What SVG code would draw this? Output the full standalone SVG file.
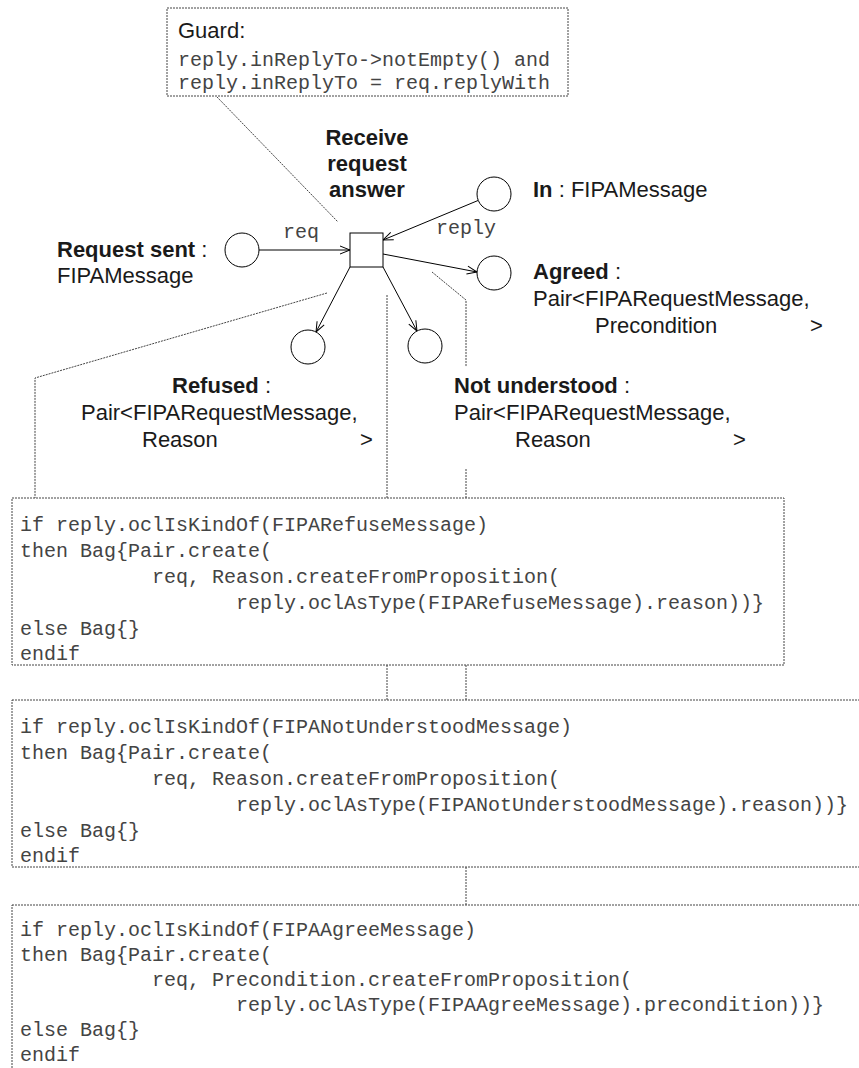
<svg xmlns="http://www.w3.org/2000/svg" width="859" height="1068" viewBox="0 0 859 1068">
<defs>
<style>
.dot{fill:none;stroke:#444;stroke-width:1;stroke-dasharray:2 1}
.ln{fill:none;stroke:#000;stroke-width:1}
.pl{fill:#fff;stroke:#000;stroke-width:1}
.sans{font-family:"Liberation Sans",Arial,sans-serif;font-size:22px;fill:#1a1a1a}
.b{font-weight:bold}
.mono{font-family:"Liberation Mono","Courier New",monospace;font-size:20px;fill:#444}
</style>
<marker id="arr" markerUnits="userSpaceOnUse" markerWidth="12" markerHeight="10" refX="11" refY="5" orient="auto" viewBox="0 0 12 10">
<path d="M1,1 L11,5 L1,9" fill="none" stroke="#000" stroke-width="1"/>
</marker>
</defs>
<rect width="859" height="1068" fill="#fff"/>

<g id="connectors">
<line class="ln" x1="259" y1="250" x2="350" y2="250" marker-end="url(#arr)"/>
<line class="ln" x1="478" y1="200.5" x2="383" y2="240" marker-end="url(#arr)"/>
<line class="ln" x1="383" y1="254" x2="477" y2="272" marker-end="url(#arr)"/>
<line class="ln" x1="350" y1="267" x2="316" y2="332" marker-end="url(#arr)"/>
<line class="ln" x1="383" y1="267" x2="417" y2="331" marker-end="url(#arr)"/>
<text class="mono" x="283" y="238">req</text>
<text class="mono" x="436" y="234">reply</text>
<path class="dot" d="M217,97 L338,222"/>
<path class="dot" d="M327,293 L35,378 L35,498"/>
<path class="dot" d="M387,295 L387,498"/>
<path class="dot" d="M432,272 L466,300 L466,367"/>
<path class="dot" d="M466,469 L466,498"/>
<path class="dot" d="M387,665 L387,700"/>
<path class="dot" d="M466,665 L466,700"/>
<path class="dot" d="M466,867 L466,905"/>
</g>

<g id="guard">
<rect class="dot" x="167" y="8" width="401" height="88"/>
<text class="sans" x="178" y="38">Guard:</text>
<text class="mono" x="178" y="66">reply.inReplyTo-&gt;notEmpty() and</text>
<text class="mono" x="178" y="89">reply.inReplyTo = req.replyWith</text>
</g>

<g id="transition">
<rect class="pl" x="350" y="233" width="33" height="34"/>
<text class="sans b" text-anchor="middle" x="367" y="145">Receive</text>
<text class="sans b" text-anchor="middle" x="367" y="171">request</text>
<text class="sans b" text-anchor="middle" x="367" y="197">answer</text>
</g>

<g id="request-sent">
<circle class="pl" cx="242" cy="250" r="17"/>
<text class="sans" x="57" y="257"><tspan class="b">Request sent</tspan> :</text>
<text class="sans" x="57" y="283">FIPAMessage</text>
</g>

<g id="in">
<circle class="pl" cx="494" cy="194" r="17"/>
<text class="sans" x="533" y="197"><tspan class="b">In</tspan> : FIPAMessage</text>
</g>

<g id="agreed">
<circle class="pl" cx="494" cy="273" r="17"/>
<text class="sans" x="533" y="279"><tspan class="b">Agreed</tspan> :</text>
<text class="sans" x="533" y="306">Pair&lt;FIPARequestMessage,</text>
<text class="sans" x="595" y="333">Precondition</text>
<text class="sans" x="810" y="333">&gt;</text>
</g>

<g id="refused">
<circle class="pl" cx="308" cy="347" r="17"/>
<text class="sans" x="172" y="393"><tspan class="b">Refused</tspan> :</text>
<text class="sans" x="81" y="420">Pair&lt;FIPARequestMessage,</text>
<text class="sans" x="142" y="447">Reason</text>
<text class="sans" x="360" y="447">&gt;</text>
</g>

<g id="not-understood">
<circle class="pl" cx="425" cy="346" r="17"/>
<text class="sans" x="454" y="393"><tspan class="b">Not understood</tspan> :</text>
<text class="sans" x="454" y="420">Pair&lt;FIPARequestMessage,</text>
<text class="sans" x="515" y="447">Reason</text>
<text class="sans" x="733" y="447">&gt;</text>
</g>

<g id="refuse-expr">
<rect class="dot" x="12" y="498" width="772" height="167"/>
<text class="mono" x="20" y="531">if reply.oclIsKindOf(FIPARefuseMessage)</text>
<text class="mono" x="20" y="557">then Bag{Pair.create(</text>
<text class="mono" x="152" y="583">req, Reason.createFromProposition(</text>
<text class="mono" x="236" y="609">reply.oclAsType(FIPARefuseMessage).reason))}</text>
<text class="mono" x="20" y="635">else Bag{}</text>
<text class="mono" x="20" y="660">endif</text>
</g>

<g id="notunderstood-expr">
<rect class="dot" x="12" y="700" width="870" height="167"/>
<text class="mono" x="20" y="733">if reply.oclIsKindOf(FIPANotUnderstoodMessage)</text>
<text class="mono" x="20" y="759">then Bag{Pair.create(</text>
<text class="mono" x="152" y="785">req, Reason.createFromProposition(</text>
<text class="mono" x="236" y="811">reply.oclAsType(FIPANotUnderstoodMessage).reason))}</text>
<text class="mono" x="20" y="837">else Bag{}</text>
<text class="mono" x="20" y="862">endif</text>
</g>

<g id="agree-expr">
<rect class="dot" x="12" y="905" width="870" height="200"/>
<text class="mono" x="20" y="936">if reply.oclIsKindOf(FIPAAgreeMessage)</text>
<text class="mono" x="20" y="961">then Bag{Pair.create(</text>
<text class="mono" x="152" y="986">req, Precondition.createFromProposition(</text>
<text class="mono" x="236" y="1011">reply.oclAsType(FIPAAgreeMessage).precondition))}</text>
<text class="mono" x="20" y="1036">else Bag{}</text>
<text class="mono" x="20" y="1061">endif</text>
</g>
</svg>
